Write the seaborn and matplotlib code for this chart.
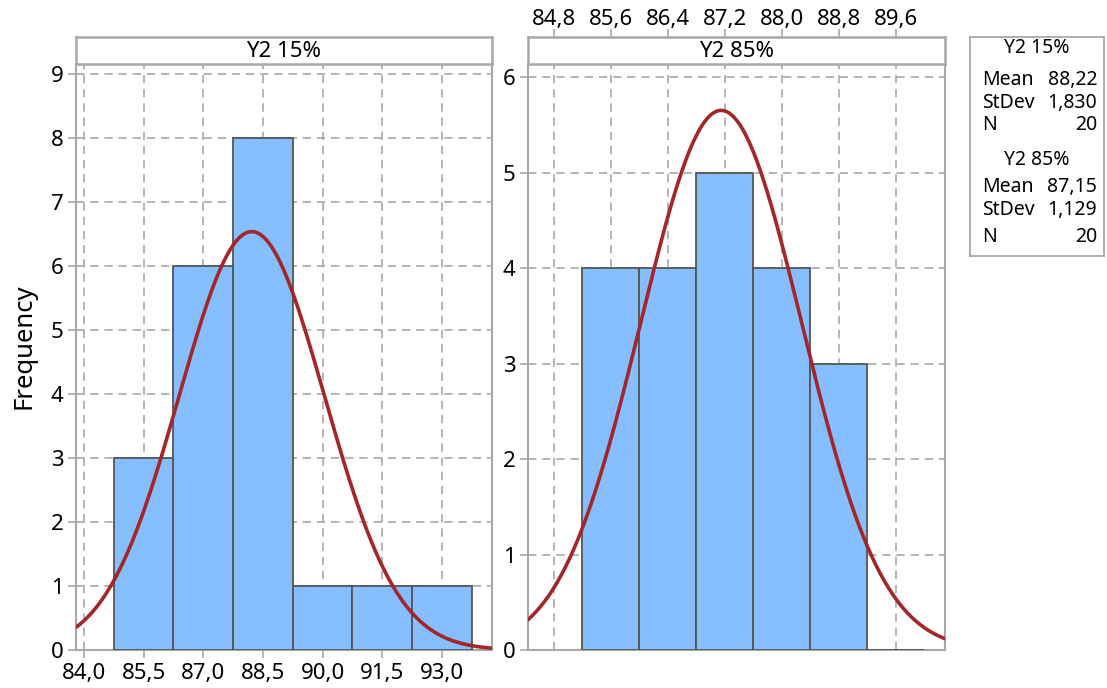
import numpy as np
import pandas as pd
import matplotlib
matplotlib.use("Agg")
import matplotlib.pyplot as plt
import seaborn as sns

# ---- data ----
mid_15 = [85.5, 87.0, 88.5, 90.0, 91.5, 93.0]
counts_15 = [3, 6, 8, 1, 1, 1]
mid_85 = [85.6, 86.4, 87.2, 88.0, 88.8, 89.6]
counts_85 = [4, 4, 5, 4, 3, 0]

mean_15, sd_15, n_15 = 88.22, 1.830, 20
mean_85, sd_85, n_85 = 87.15, 1.129, 20

xticks_15 = [84.0, 85.5, 87.0, 88.5, 90.0, 91.5, 93.0]
xticks_85 = [84.8, 85.6, 86.4, 87.2, 88.0, 88.8, 89.6]
yticks_15 = list(range(0, 10))
yticks_85 = list(range(0, 7))

sns.set_style("white")
plt.rcParams['font.family'] = ['Noto Sans', 'DejaVu Sans']
plt.rcParams['text.color'] = 'black'
plt.rcParams['xtick.labelcolor'] = 'black'
plt.rcParams['ytick.labelcolor'] = 'black'

W, H = 1107, 688
fig = plt.figure(figsize=(W / 100, H / 100), dpi=100)

BAR = "#85BFFF"
EDGE = "#555555"
CURVE = "#A3262A"
SPINE = "#A8A8A8"
GRID = "#A8A8A8"


def fx(px):
    return px / W


def fy(py):
    return 1 - py / H


def comma(v, fmt):
    return (fmt % v).replace('.', ',')


def panel(x0, x1, mids, counts, mean, sd, n, xlim, ylim, xticks, yticks, title, xfmt, top_axis):
    ax = fig.add_axes([fx(x0), fy(650), fx(x1 - x0), (650 - 64) / H])
    strip = fig.add_axes([fx(x0), fy(64), fx(x1 - x0), 27 / H], sharex=ax)
    width = mids[1] - mids[0]
    edges = [m - width / 2 for m in mids] + [mids[-1] + width / 2]
    df = pd.DataFrame({"x": mids, "w": counts})
    sns.histplot(data=df, x="x", weights="w", bins=edges, ax=ax,
                 color=BAR, alpha=1.0, edgecolor=EDGE, linewidth=1.3, zorder=3)
    xs = np.linspace(xlim[0], xlim[1], 400)
    ys = n * width * np.exp(-0.5 * ((xs - mean) / sd) ** 2) / (sd * np.sqrt(2 * np.pi))
    sns.lineplot(x=xs, y=ys, ax=ax, color=CURVE, linewidth=2.6, zorder=4)
    ax.set_xlim(*xlim)
    ax.set_ylim(*ylim)
    ax.set_xlabel("")
    ax.set_ylabel("")
    ax.set_yticks(yticks)
    ax.set_yticklabels([str(v) for v in yticks])
    ax.set_xticks(xticks)
    ax.grid(True, color=GRID, linestyle=(0, (5, 3.5)), linewidth=1.2, zorder=0)
    ax.set_axisbelow(True)
    for s in ax.spines.values():
        s.set_color(SPINE)
        s.set_linewidth(1.5)
    ax.tick_params(axis='y', which='both', left=True, length=6, width=1.2,
                   color=SPINE, labelsize=16, pad=3, labelcolor='black')
    if top_axis:
        ax.tick_params(axis='x', bottom=False, labelbottom=False)
        strip.xaxis.tick_top()
        strip.set_xticks(xticks)
        strip.set_xticklabels([comma(v, xfmt) for v in xticks])
        strip.tick_params(axis='x', top=True, labeltop=True, length=6, width=1.2,
                          color=SPINE, labelsize=16, pad=-1, labelcolor='black')
    else:
        ax.set_xticklabels([comma(v, xfmt) for v in xticks])
        ax.tick_params(axis='x', bottom=True, length=6, width=1.2, color=SPINE,
                       labelsize=16, pad=3, labelcolor='black')
        strip.tick_params(axis='x', top=False, bottom=False, labeltop=False, labelbottom=False)
    strip.set_yticks([])
    strip.set_facecolor("white")
    for s in strip.spines.values():
        s.set_color(SPINE)
        s.set_linewidth(1.8)
    strip.text(0.5, 0.45, title, transform=strip.transAxes, ha='center', va='center',
               fontsize=16, color='black')
    return ax


ax1 = panel(76, 492, mid_15, counts_15, mean_15, sd_15, n_15, (83.80, 94.26), (0, 9.16),
            xticks_15, yticks_15, "Y2 15%", "%.1f", False)
ax2 = panel(528, 945, mid_85, counts_85, mean_85, sd_85, n_85, (84.44, 90.29), (0, 6.14),
            xticks_85, yticks_85, "Y2 85%", "%.1f", True)

fig.text(fx(24), fy(346), "Frequency", rotation=90, ha='center', va='center',
         fontsize=18.5, color='black')

# ---- statistics box ----
box = fig.add_axes([fx(970), fy(256), fx(134), (256 - 37) / H])
box.set_xticks([])
box.set_yticks([])
for s in box.spines.values():
    s.set_color(SPINE)
    s.set_linewidth(1.3)


def row(py, left, right=None, center=False):
    y = 1 - (py - 37) / (256 - 37)
    if center:
        box.text(0.5, y, left, transform=box.transAxes, ha='center', va='center',
                 fontsize=14, color='black')
    else:
        box.text(0.09, y, left, transform=box.transAxes, ha='left', va='center',
                 fontsize=14, color='black')
        box.text(0.95, y, right, transform=box.transAxes, ha='right', va='center',
                 fontsize=14, color='black')


row(48, "Y2 15%", center=True)
row(80, "Mean", comma(mean_15, "%.2f"))
row(103, "StDev", comma(sd_15, "%.3f"))
row(125, "N", str(n_15))
row(160, "Y2 85%", center=True)
row(187, "Mean", comma(mean_85, "%.2f"))
row(210, "StDev", comma(sd_85, "%.3f"))
row(237, "N", str(n_85))

fig.savefig("out.png", dpi=100)
